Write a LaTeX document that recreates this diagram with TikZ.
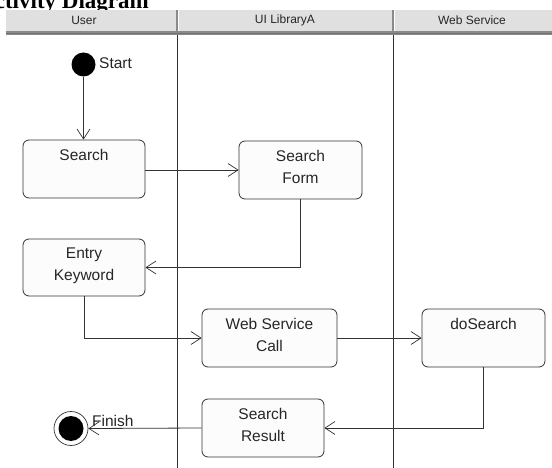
\documentclass[tikz,border=0pt]{standalone}
\usepackage{fontspec}
\setmainfont{Liberation Sans}
\newfontfamily\titlefont{Liberation Serif}
\usetikzlibrary{arrows.meta,positioning}
\definecolor{hdr}{HTML}{E0E0E0}
\definecolor{hdrline}{HTML}{8A8A8A}
\definecolor{ink}{HTML}{333333}
\definecolor{boxfill}{HTML}{FCFCFC}
\tikzset{
  actbox/.style={draw=ink, line width=0.8pt, fill=boxfill, rounded corners=6pt, inner sep=0pt},
  acttext/.style={anchor=north, inner sep=0pt, align=center, font=\fontsize{15.5}{22}\selectfont, text=black!85},
  hdrtext/.style={font=\fontsize{12}{14}\selectfont, text=black!85},
  lane/.style={draw=ink, line width=0.8pt},
  arr/.style={draw=ink, line width=0.8pt, -{Straight Barb[length=10pt,width=13pt,line width=0.7pt]}},
  plain/.style={draw=ink, line width=0.8pt},
}
\begin{document}
\begin{tikzpicture}[x=1pt,y=-1pt]
\useasboundingbox (0,0) rectangle (552,468);
\clip (0,0) rectangle (552,468);
\fill[white] (0,0) rectangle (552,468);
% title (partially cut off)
\node[anchor=base east, inner sep=0pt, font=\titlefont\bfseries\fontsize{23}{26}\selectfont] (title) at (149,9) {Activity Diagram};
% header
\fill[hdr] (6,10) rectangle (552,31);
\fill[hdrline] (6,31) rectangle (552,35);
\draw[black!55, line width=0.8pt] (6,33.5) -- (552,33.5);
\fill[hdrline] (175.5,10) rectangle (177.5,31);
\fill[white] (177.5,10) rectangle (178.5,31);
\fill[hdrline] (392,10) rectangle (394,31);
\fill[white] (394,10) rectangle (395,31);
\node[hdrtext] (hUser) at (84,20) {User};
\node[hdrtext] (hUI) at (285,20) {UI LibraryA};
\node[hdrtext] (hWS) at (472,20) {Web Service};
% lanes
\coordinate (l1t) at (177,35);
\coordinate (l1b) at (177,468);
\coordinate (l2t) at (393.5,35);
\coordinate (l2b) at (393.5,468);
\draw[lane] (l1t) -- (l1b);
\draw[lane] (l2t) -- (l2b);
% start
\node[circle, fill=black, minimum size=24pt, inner sep=0pt] (start) at (83.5,64.5) {};
\node[anchor=west, inner sep=0pt, font=\fontsize{15.5}{18}\selectfont, text=black!85] (startlbl) at (99,63.5) {Start};
% boxes
\node[actbox, minimum width=122pt, minimum height=58pt] (search) at (84,169) {};
\node[acttext] (searcht) at ([yshift=-9pt]search.north) {Search};
\node[actbox, minimum width=123pt, minimum height=58pt] (form) at (300.5,170) {};
\node[acttext] (formt) at ([yshift=-9pt]form.north) {Search\\Form};
\node[actbox, minimum width=122pt, minimum height=57pt] (entry) at (84,267.5) {};
\node[acttext] (entryt) at ([yshift=-9pt]entry.north) {Entry\\Keyword};
\node[actbox, minimum width=135pt, minimum height=58pt] (wsc) at (269.5,338) {};
\node[acttext] (wsct) at ([yshift=-9pt]wsc.north) {Web Service\\Call};
\node[actbox, minimum width=123pt, minimum height=58pt] (dos) at (483.5,338) {};
\node[acttext] (dost) at ([yshift=-9pt]dos.north) {doSearch};
\node[actbox, minimum width=122pt, minimum height=58pt] (result) at (263,428) {};
\node[acttext] (resultt) at ([yshift=-9pt]result.north) {Search\\Result};
% final
\node[circle, draw=ink, line width=0.7pt, fill=white, minimum size=34pt, inner sep=0pt] (final) at (71,428.5) {};
\node[circle, fill=black, minimum size=25pt, inner sep=0pt] (finalin) at (final) {};
% connectors
\draw[arr] (start) -- (start |- search.north);
\draw[arr] (search.east |- form.west) -- (form.west);
\draw[arr] (form.south) |- (entry.east);
\draw[arr] (entry.south) |- (wsc.west);
\draw[arr] (wsc.east) -- (dos.west);
\draw[arr] (dos.south) |- (result.east);
\draw[arr] (result.west) -- (final.east);
\node[anchor=west, inner sep=0pt, font=\fontsize{15.5}{18}\selectfont, text=black!85] (finlbl) at (92,421) {Finish};
\end{tikzpicture}
\end{document}
